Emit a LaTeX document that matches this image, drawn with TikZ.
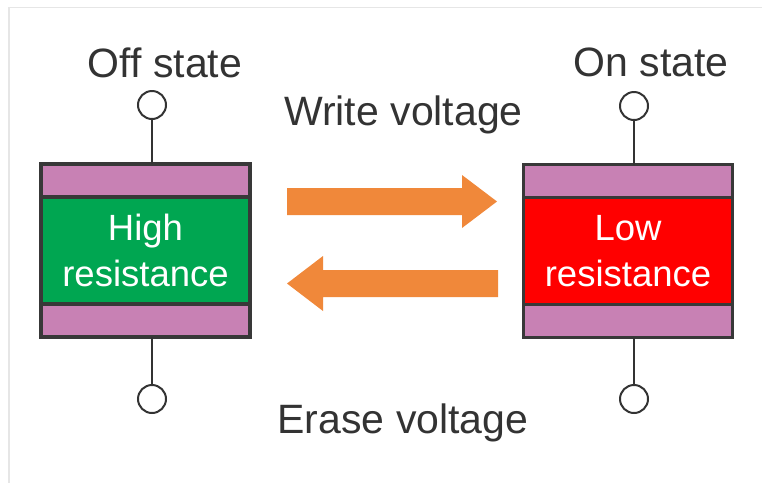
\documentclass[tikz,border=0pt]{standalone}
\usepackage{fontspec}
\setmainfont{Liberation Sans}
\usetikzlibrary{positioning}
\definecolor{inkgray}{HTML}{333333}
\definecolor{edgegray}{HTML}{383838}
\definecolor{framegray}{HTML}{E6E6E6}
\definecolor{platepink}{HTML}{C881B4}
\definecolor{highgreen}{HTML}{00A651}
\definecolor{lowred}{HTML}{FF0000}
\definecolor{arroworange}{HTML}{F0883A}
\begin{document}
\begin{tikzpicture}[x=1pt, y=-1pt, node distance=0pt,
  layer/.style={draw=edgegray, line width=3.5pt, minimum width=209pt, inner sep=0pt, outer sep=0pt},
  plate/.style={layer, fill=platepink, minimum height=33pt},
  cell/.style={layer, minimum height=107pt, text=white, align=center, font=\fontsize{36.5}{46}\selectfont},
  term/.style={circle, draw=inkgray, line width=2pt, minimum size=28pt, inner sep=0pt, fill=white},
  wire/.style={draw=inkgray, line width=2pt},
  statetext/.style={text=inkgray, font=\fontsize{41}{48}\selectfont, anchor=base},
  fatarrow/.style={fill=arroworange}]
  \useasboundingbox (0,0) rectangle (762,483);
  \draw[framegray, line width=1.5pt] (9,483) -- (9,7.5) -- (762,7.5);

  % off state device
  \node[cell, fill=highgreen] (high) at (145.5,250.5) {High\\resistance};
  \node[plate, above=of high] (offtop) {};
  \node[plate, below=of high] (offbot) {};
  \node[term] (offup) at (152,105) {};
  \node[term] (offdown) at (152,399) {};
  \draw[wire] (offup) -- (offup |- offtop.north);
  \draw[wire] (offdown) -- (offdown |- offbot.south);

  % on state device
  \node[cell, fill=lowred] (low) at (628,251) {Low\\resistance};
  \node[plate, above=of low] (ontop) {};
  \node[plate, below=of low] (onbot) {};
  \node[term] (onup) at (634,106) {};
  \node[term] (ondown) at (634,399) {};
  \draw[wire] (onup) -- (onup |- ontop.north);
  \draw[wire] (ondown) -- (ondown |- onbot.south);

  \node[statetext] (offlabel) at (165,77) {Off state};
  \node[statetext] (onlabel) at (651,76) {On state};
  \node[statetext] (writelabel) at (403.5,125) {Write voltage};
  \node[statetext] (eraselabel) at (403,433) {Erase voltage};

  % arrows
  \fill[fatarrow] (287,188) -- (462,188) -- (462,175) -- (497,201.5) -- (462,228) -- (462,215) -- (287,215) -- cycle;
  \fill[fatarrow] (498,270) -- (323,270) -- (323,256) -- (287,283.5) -- (323,311) -- (323,297) -- (498,297) -- cycle;
\end{tikzpicture}
\end{document}
